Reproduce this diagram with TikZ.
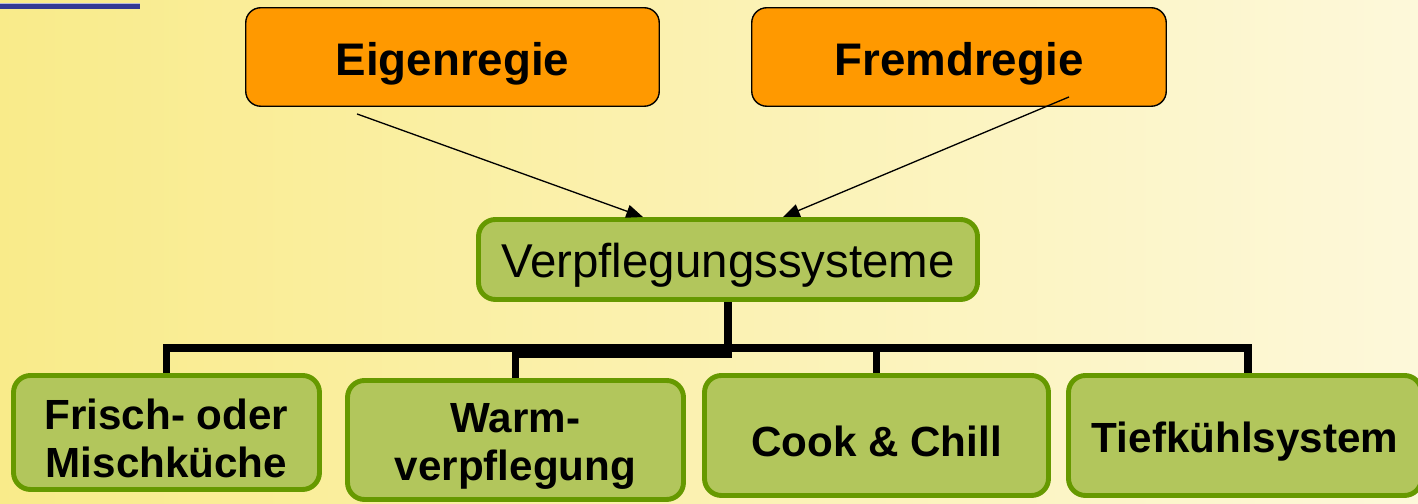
\documentclass[tikz,border=0pt]{standalone}
\usepackage{fontspec}
\setmainfont{Liberation Sans}
\usetikzlibrary{arrows.meta,positioning,calc}
\definecolor{bgyellow}{RGB}{249,235,138}
\definecolor{bgpale}{RGB}{253,248,218}
\definecolor{barblue}{RGB}{51,58,148}
\definecolor{orangefill}{RGB}{255,153,0}
\definecolor{greenfill}{RGB}{178,198,92}
\definecolor{greendraw}{RGB}{102,153,0}
\pgfdeclarelayer{background}
\pgfsetlayers{background,main}

\begin{document}
\begin{tikzpicture}[
            topbox/.style={rectangle, draw=black, line width=0.8pt, fill=orangefill, rounded corners=0.3cm, minimum width=8.27cm, minimum height=1.97cm, text height=26.4pt, font=\bfseries\fontsize{26}{30}\selectfont},
            sysbox/.style={rectangle, draw=greendraw, line width=2.8pt, fill=greenfill, rounded corners=0.34cm, align=center, inner sep=0pt},
            kindbox/.style={sysbox, text height=24.3pt, font=\bfseries\fontsize{24}{27.5}\selectfont},
            twoline/.style={text height=51.6pt},
            arrow/.style={-{Triangle[length=9.5pt,width=7.5pt]}, line width=0.75pt, black},
            tree/.style={line width=4.5pt, line join=miter, black}
        ]
        
        % Hintergrund
        \begin{pgfonlayer}{background}
        \shade[left color=bgyellow, right color=bgpale] (0,0) rectangle (28.36,10.08);
        \end{pgfonlayer}
        \useasboundingbox (0,0) rectangle (28.36,10.08);
        \fill[barblue] (0,9.9) rectangle (2.8,9.99);
        \fill[barblue!35] (0,9.99) rectangle (2.8,10.02);
        
        \node[topbox] (eigen) at (9.05,8.94) {Eigenregie};
        \node[topbox, minimum width=8.29cm] (fremd) at (19.18,8.94) {Fremdregie};
        \node[sysbox, minimum width=9.98cm, minimum height=1.6cm, text height=26.5pt, font=\fontsize{27}{30}\selectfont] (vps) at (14.56,4.89) {Verpflegungssysteme};
        \node[kindbox, twoline, minimum width=6.12cm, minimum height=2.28cm] (frisch) at (3.33,1.43) {Frisch- oder\\Mischküche};
        \node[kindbox, twoline, minimum width=6.72cm, minimum height=2.38cm] (warm) at (10.31,1.28) {Warm-\\verpflegung};
        \node[kindbox, minimum width=6.88cm, minimum height=2.4cm] (cook) at (17.53,1.37) {Cook \& Chill};
        \node[kindbox, minimum width=7.06cm, minimum height=2.4cm] (tief) at (24.9,1.37) {Tiefkühlsystem};
        
        \draw[arrow] ($(eigen.south)+(-1.91,-0.14)$) -- ($(vps.north)+(-1.7,0)$);
        \draw[arrow] ($(fremd.south)+(2.2,0.2)$) -- ($(vps.north)+(1.1,0)$);
        
        % Baum
        \coordinate (bar) at (0,3.12);
        \coordinate (barw) at (0,3.0);
        \coordinate (tiefin) at ([xshift=0.06cm]tief.north);
        \begin{pgfonlayer}{background}
        \draw[tree] (vps.south) |- (bar -| frisch.north) -- (frisch.north);
        \draw[tree] (vps.south) |- (barw -| warm.north) -- (warm.north);
        \draw[tree] (vps.south) |- (bar -| cook.north) -- (cook.north);
        \draw[tree] (vps.south) |- (bar -| tiefin) -- (tiefin);
        \end{pgfonlayer}
        \end{tikzpicture}
\end{document}
